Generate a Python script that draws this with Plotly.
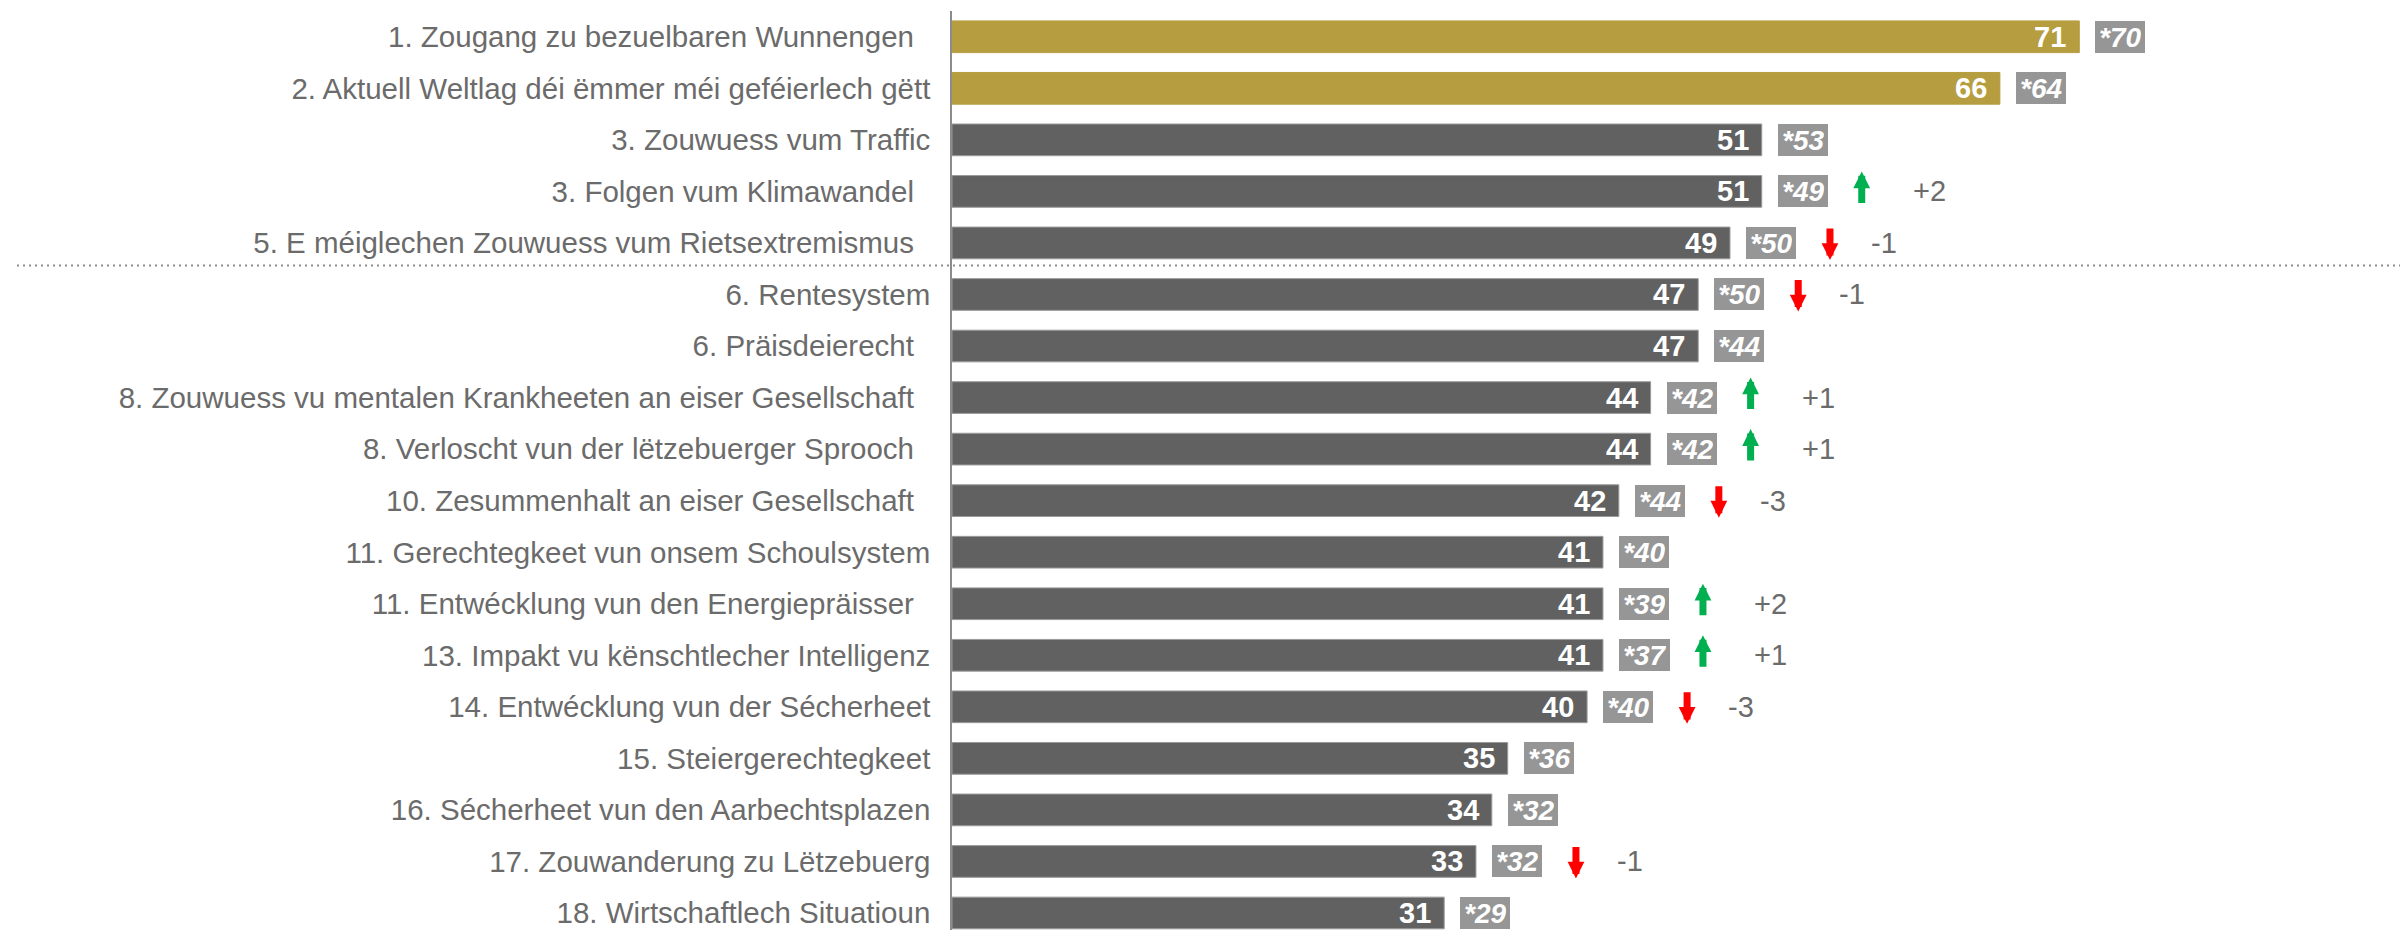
import plotly.graph_objects as go

categories = [
    "1. Zougang zu bezuelbaren Wunnengen ",
    "2. Aktuell Weltlag déi ëmmer méi geféierlech gëtt",
    "3. Zouwuess vum Traffic",
    "3. Folgen vum Klimawandel ",
    "5. E méiglechen Zouwuess vum Rietsextremismus ",
    "6. Rentesystem",
    "6. Präisdeierecht ",
    "8. Zouwuess vu mentalen Krankheeten an eiser Gesellschaft ",
    "8. Verloscht vun der lëtzebuerger Sprooch ",
    "10. Zesummenhalt an eiser Gesellschaft ",
    "11. Gerechtegkeet vun onsem Schoulsystem",
    "11. Entwécklung vun den Energiepräisser ",
    "13. Impakt vu kënschtlecher Intelligenz",
    "14. Entwécklung vun der Sécherheet",
    "15. Steiergerechtegkeet",
    "16. Sécherheet vun den Aarbechtsplazen",
    "17. Zouwanderung zu Lëtzebuerg",
    "18. Wirtschaftlech Situatioun",
]
values = [71, 66, 51, 51, 49, 47, 47, 44, 44, 42, 41, 41, 41, 40, 35, 34, 33, 31]
previous_values = [70, 64, 53, 49, 50, 50, 44, 42, 42, 44, 40, 39, 37, 40, 36, 32, 32, 29]
rank_changes = [None, None, None, 2, -1, -1, None, 1, 1, -3, None, 2, 1, -3, None, None, -1, None]

N_HIGHLIGHT = 2
SEPARATOR_AFTER = 5

FONT = "Liberation Sans, Arial, sans-serif"
GOLD = "#B59D40"
DARK = "#616161"
BOX = "#969696"
LABEL = "#6b6b6b"
GREEN = "#00B050"
RED = "#FF0000"
ARROW_OFFSET = 100

n = len(categories)
ypos = list(range(n))
ticktext = [c.rstrip() + ("\u00a0\u00a0" if c.endswith(" ") else "") for c in categories]
colors = [GOLD if i < N_HIGHLIGHT else DARK for i in range(n)]
line_colors = [GOLD if i < N_HIGHLIGHT else "#9a9a9a" for i in range(n)]

fig = go.Figure()
fig.add_trace(go.Bar(
    x=values, y=ypos, orientation="h", width=0.615,
    marker=dict(color=colors, line=dict(color=line_colors, width=1)),
    hoverinfo="skip",
))

ann = []
for i, (v, pv, ch) in enumerate(zip(values, previous_values, rank_changes)):
    ann.append(dict(x=v, y=i, xref="x", yref="y", text=f"<b>{v}</b>", showarrow=False,
                    xanchor="right", yanchor="middle", xshift=-13, borderpad=0, borderwidth=0,
                    font=dict(family=FONT, size=29, color="white")))
    ann.append(dict(x=v, y=i, xref="x", yref="y", text=f"<b><i>*{pv}</i></b>", showarrow=False,
                    xanchor="left", yanchor="middle", xshift=16, bgcolor=BOX, borderpad=4,
                    borderwidth=0, height=24, font=dict(family=FONT, size=28, color="white")))
    if ch is not None:
        up = ch > 0
        ann.append(dict(x=v, y=i, xref="x", yref="y", text="", showarrow=True,
                        ax=0, ay=(33 if up else -33), xshift=ARROW_OFFSET, yshift=(20 if up else -17),
                        arrowhead=2, arrowsize=0.48, arrowwidth=7,
                        arrowcolor=GREEN if up else RED))
        ann.append(dict(x=v, y=i, xref="x", yref="y", text=(f"+{ch}" if up else f"-{abs(ch)}"),
                        showarrow=False, xanchor="left", yanchor="middle",
                        xshift=ARROW_OFFSET + (51 if up else 41), borderpad=0, borderwidth=0,
                        font=dict(family=FONT, size=29, color=LABEL)))

fig.update_layout(
    width=2400, height=930,
    margin=dict(l=952, r=0, t=11, b=0),
    plot_bgcolor="white", paper_bgcolor="white",
    showlegend=False,
    annotations=ann,
    xaxis=dict(range=[0, 91.2], visible=False, showgrid=False, zeroline=False),
    yaxis=dict(range=[17.33, -0.5], tickvals=ypos, ticktext=ticktext, showgrid=False,
               zeroline=False, showline=True, linecolor="#8c8c8c", linewidth=1.5,
               ticks="", ticklabelstandoff=14,
               tickfont=dict(family=FONT, size=29.5, color=LABEL)),
    shapes=[dict(type="line", xref="paper", yref="y", x0=-0.6457, x1=1,
                 y0=SEPARATOR_AFTER - 0.56, y1=SEPARATOR_AFTER - 0.56,
                 line=dict(color="#8c8c8c", width=2, dash="2px,4px"))],
)

fig.write_html("out.html", config={"displayModeBar": False},
               post_script="document.body.style.margin='0';document.body.style.overflow='hidden';")
